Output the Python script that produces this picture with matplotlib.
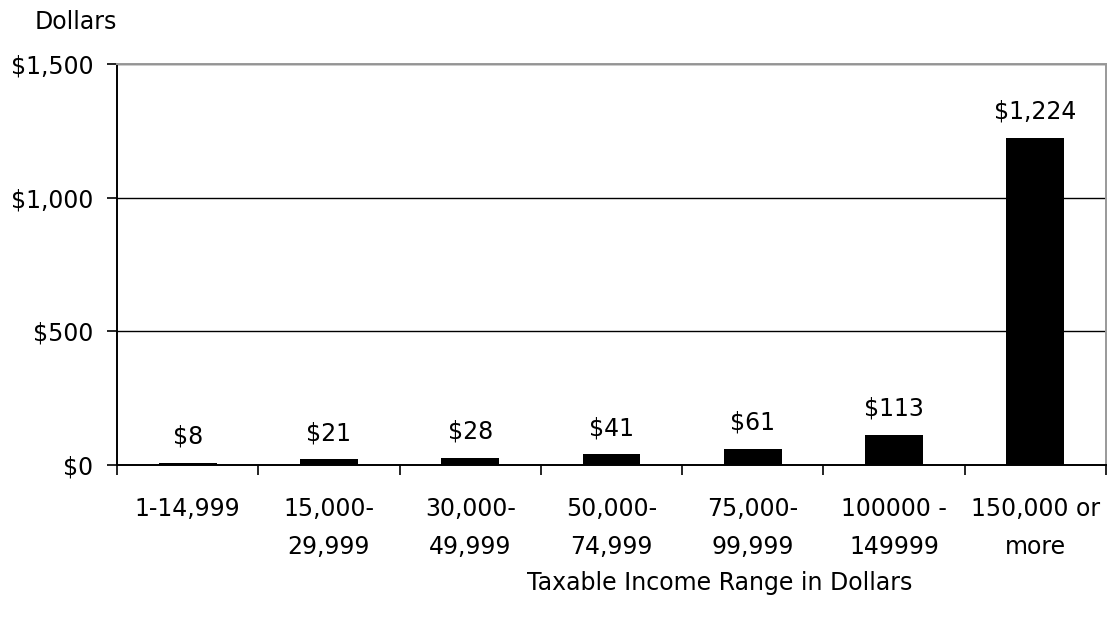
import numpy as np
import matplotlib.pyplot as plt
from matplotlib.ticker import FuncFormatter

plt.rcParams['font.family'] = ['DejaVu Sans']

categories = ["1-14,999", "15,000-\n29,999", "30,000-\n49,999", "50,000-\n74,999",
              "75,000-\n99,999", "100000 -\n149999", "150,000 or\nmore"]
values = [8, 21, 28, 41, 61, 113, 1224]
labels = ["$8", "$21", "$28", "$41", "$61", "$113", "$1,224"]

fig = plt.figure(figsize=(11.07, 6.26), dpi=100)
ax = fig.add_axes([117/1107, 1 - 465/626, 989/1107, (465 - 64)/626])

x = np.arange(len(values))
bars = ax.bar(x, values, width=0.41, color="black", zorder=3)

# value labels above bars
for xi, v, lab in zip(x, values, labels):
    ax.annotate(lab, (xi, v), xytext=(0, 10), textcoords="offset points",
                ha="center", va="bottom", fontsize=17)

ax.set_xlim(-0.5, len(values) - 0.5)
ax.set_ylim(0, 1500)
ax.set_yticks([0, 500, 1000, 1500])
ax.yaxis.set_major_formatter(FuncFormatter(lambda v, p: "${:,.0f}".format(v)))
ax.tick_params(axis="y", labelsize=17, length=7, width=1.2, pad=10, direction="out")
ax.grid(axis="y", color="black", lw=1.0, zorder=1)

# ticks between categories, labels centered
ax.set_xticks(np.arange(len(values) + 1) - 0.5)
ax.set_xticklabels([])
ax.set_xticks(x, minor=True)
ax.set_xticklabels(categories, minor=True, fontsize=17, linespacing=1.72)
ax.tick_params(axis="x", which="major", length=7, width=1.2, direction="out")
ax.tick_params(axis="x", which="minor", length=0, pad=23)

for s in ["left", "bottom"]:
    ax.spines[s].set_color("black")
    ax.spines[s].set_linewidth(1.4)
for s in ["top", "right"]:
    ax.spines[s].set_color("#999999")
    ax.spines[s].set_linewidth(1.4)

fig.text(35/1107, 1 - 22/626, "Dollars", fontsize=17, va="center", ha="left")
fig.text(720/1107, 1 - 583/626, "Taxable Income Range in Dollars", fontsize=17,
         va="center", ha="center")

fig.savefig("out.png", dpi=100)
